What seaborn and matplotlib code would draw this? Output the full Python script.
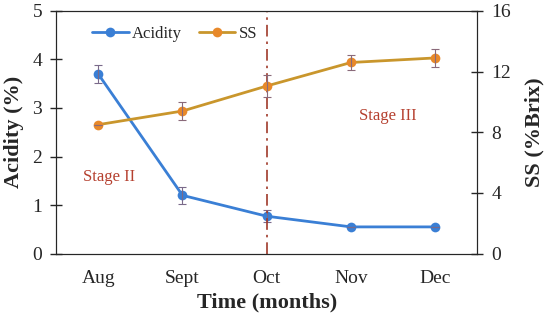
import seaborn as sns
import matplotlib.pyplot as plt
import pandas as pd
import numpy as np

months = ["Aug", "Sept", "Oct", "Nov", "Dec"]
acidity = [3.70, 1.20, 0.77, 0.55, 0.55]
acidity_err = [0.18, 0.18, 0.12, 0.0, 0.0]
ss = [8.5, 9.4, 11.05, 12.6, 12.9]
ss_err = [0.0, 0.6, 0.7, 0.5, 0.6]

sns.set_style("ticks")
plt.rcParams["font.family"] = ["Liberation Serif", "DejaVu Serif"]

df = pd.DataFrame({"month": months, "Acidity": acidity, "SS": ss})
x = np.arange(len(months))

fig, ax = plt.subplots(figsize=(5.5, 3.21), dpi=100)
ax2 = ax.twinx()

blue = "#3a7fd5"
gold = "#c9962c"

sns.lineplot(x=x, y=df["Acidity"], ax=ax, color=blue, marker="o", markersize=7,
             markeredgewidth=0, linewidth=2, label="Acidity", legend=False)
ax.errorbar(x, acidity, yerr=acidity_err, fmt="none", ecolor="#7a6a8a",
            elinewidth=0.8, capsize=3, capthick=0.8)
sns.lineplot(x=x, y=df["SS"], ax=ax2, color=gold, marker="o", markersize=7,
             markeredgewidth=0, markerfacecolor="#e8892a", linewidth=2,
             label="SS", legend=False)
ax2.errorbar(x, ss, yerr=ss_err, fmt="none", ecolor="#8a6a7a",
             elinewidth=0.8, capsize=3, capthick=0.8)

ax.axvline(2, color="#a0392a", linestyle=(0, (7, 3, 1.5, 3)), linewidth=1.2)

ax.set_xlim(-0.5, 4.5)
ax.set_ylim(0, 5)
ax2.set_ylim(0, 16)
ax.set_xticks(x)
ax.set_xticklabels(months)
ax.set_yticks([0, 1, 2, 3, 4, 5])
ax2.set_yticks([0, 4, 8, 12, 16])

ax.set_xlabel("Time (months)", fontsize=16, fontweight="bold", labelpad=4)
ax.set_ylabel("Acidity (%)", fontsize=16, fontweight="bold", labelpad=6)
ax2.set_ylabel("SS (%Brix)", fontsize=16, fontweight="bold", labelpad=10)

for a in (ax, ax2):
    a.tick_params(labelsize=14, direction="inout", length=8, width=1, pad=6)
ax.tick_params(axis="x", length=0, pad=12)
ax2.spines["top"].set_visible(True)

ax.text(0.13, 1.58, "Stage II", color="#b5402f", fontsize=12, ha="center", va="center")
ax.text(3.44, 2.84, "Stage III", color="#b5402f", fontsize=12, ha="center", va="center")

h1, l1 = ax.get_legend_handles_labels()
h2, l2 = ax2.get_legend_handles_labels()
ax.legend(h1 + h2, l1 + l2, loc="upper left", ncol=2, frameon=False,
          fontsize=12, bbox_to_anchor=(0.05, 1.0), handlelength=2.2,
          columnspacing=1.0, handletextpad=0.2)

fig.subplots_adjust(left=0.102, right=0.868, top=0.966, bottom=0.21)
fig.savefig("out.png", dpi=100)
